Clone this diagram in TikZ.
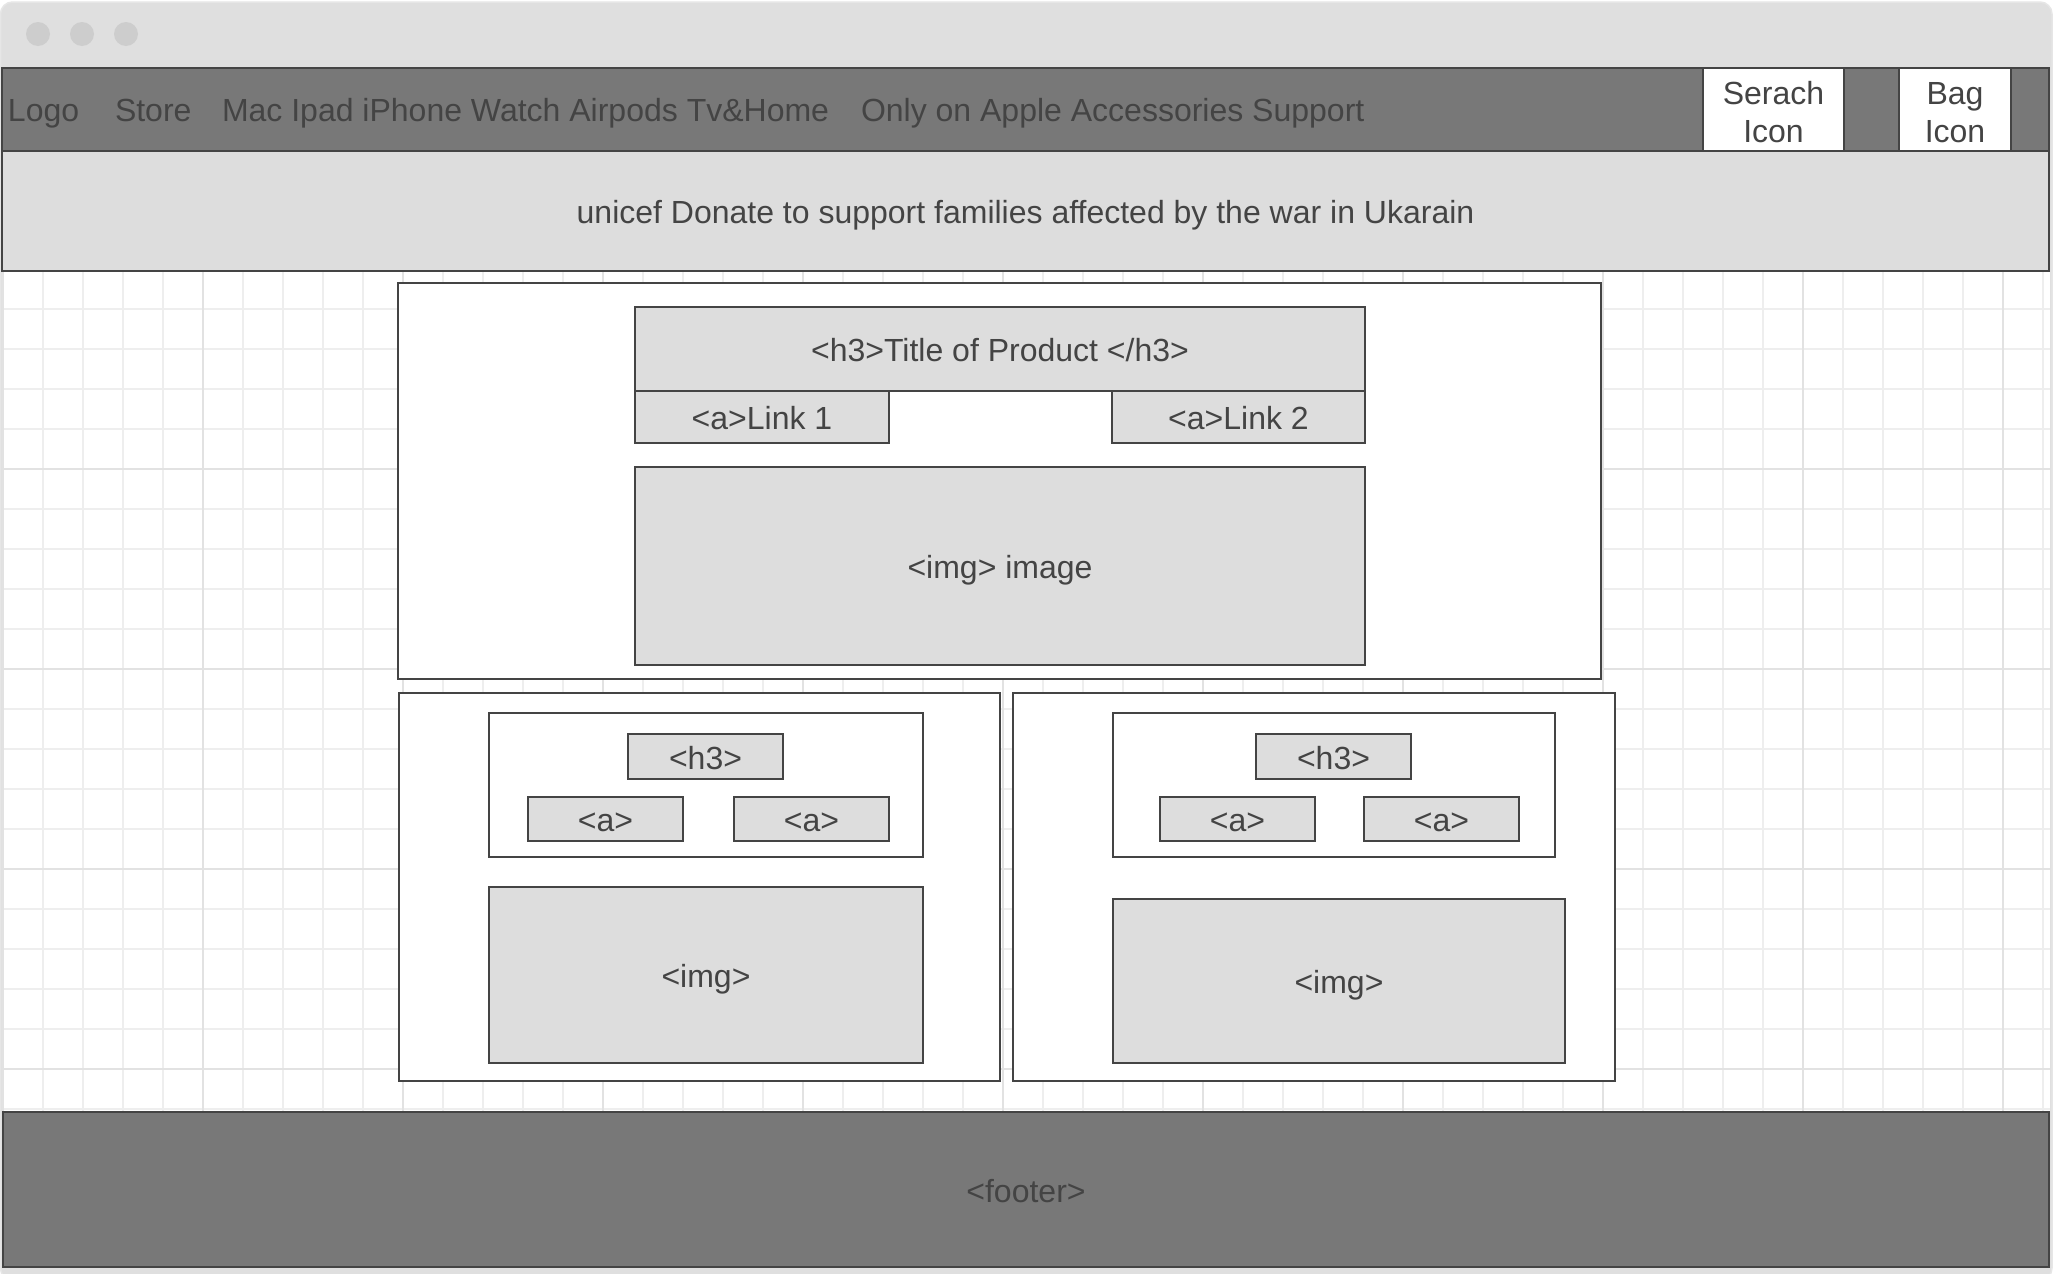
\documentclass[tikz,border=0pt]{standalone}
\usepackage{fontspec}
\setmainfont{Liberation Sans}
\definecolor{winbg}{HTML}{DFDFDF}
\definecolor{winline}{HTML}{E6E6E6}
\definecolor{dot}{HTML}{CDCDCD}
\definecolor{bar}{HTML}{787878}
\definecolor{edge}{HTML}{444444}
\definecolor{light}{HTML}{DDDDDD}
\definecolor{txt}{HTML}{444444}
\definecolor{gminor}{HTML}{EEEEEE}
\definecolor{gmajor}{HTML}{E2E2E2}
\newcommand\wbox[8][boxtext]{%
  \node[#7, minimum width={(#5-#3)*0.5pt}, minimum height={(#6-#4)*0.5pt}] (#2) at ({(#3+#5)/2},{(#4+#6)/2}) {};
  \node[#1] (#2-label) at (#2.center) {#8};}
\tikzset{
  every node/.style={inner sep=0pt, outer sep=0pt, text=txt, font=\fontsize{16pt}{19pt}\selectfont},
  basebox/.style={rectangle, draw=edge, line width=1pt},
  darkbox/.style={basebox, fill=bar},
  lightbox/.style={basebox, fill=light},
  whitebox/.style={basebox, fill=white},
  boxtext/.style={text height=12pt, text depth=2.5pt, yshift=-1.5pt},
  twoline/.style={align=center, yshift=-1.5pt},
  navtext/.style={anchor=base west},
  minorline/.style={draw=gminor, line width=0.75pt},
  majorline/.style={draw=gmajor, line width=0.75pt},
}
\begin{document}
\begin{tikzpicture}[x=0.5pt,y=-0.5pt]
\useasboundingbox (0,0) rectangle (2056,1274);
\fill[white] (0,0) rectangle (2056,1274);
% window frame
\draw[fill=winbg, draw=winline, line width=0.75pt, rounded corners=6pt] (0.5,2) rectangle (2052,1280);
\fill[dot] (38,34) circle[radius=12];
\fill[dot] (82,34) circle[radius=12];
\fill[dot] (126,34) circle[radius=12];
% page area with grid
\fill[white] (2,271) rectangle (2050,1112);
\begin{scope}
\clip (2,271) rectangle (2050,1112);
\foreach \k in {0,...,51} {\draw[minorline] ({3+40*\k},271) -- ({3+40*\k},1112);}
\foreach \k in {0,...,20} {\draw[minorline] (2,{309+40*\k}) -- (2050,{309+40*\k});}
\foreach \k in {0,...,10} {\draw[majorline] ({3+200*\k},271) -- ({3+200*\k},1112);}
\foreach \k in {0,...,4} {\draw[majorline] (2,{269+200*\k}) -- (2050,{269+200*\k});}
\end{scope}
% navigation bar
\wbox{nav}{2}{68}{2049}{151}{darkbox}{}
\wbox[twoline]{search}{1703}{68}{1844}{151}{whitebox}{Serach\\Icon}
\wbox[twoline]{bag}{1899}{68}{2011}{151}{whitebox}{Bag\\Icon}
\node[navtext] (logo) at (8,121) {Logo};
\node[navtext] (store) at (115,121) {Store};
\node[navtext] (menu) at (222,121) {Mac Ipad iPhone Watch Airpods Tv\&Home};
\node[navtext] (extra) at (861,121) {Only on Apple Accessories Support};
% banner
\wbox{banner}{2}{151}{2049}{271}{lightbox}{unicef Donate to support families affected by the war in Ukarain}
% main product
\wbox{main}{398}{283}{1601}{679}{whitebox}{}
\wbox{title}{635}{307}{1365}{391}{lightbox}{<h3>Title of Product </h3>}
\wbox{linka}{635}{391}{889}{443}{lightbox}{<a>Link 1}
\wbox{linkb}{1112}{391}{1365}{443}{lightbox}{<a>Link 2}
\wbox{mainimg}{635}{467}{1365}{665}{lightbox}{<img> image}
% left card
\wbox{lcard}{399}{693}{1000}{1081}{whitebox}{}
\wbox{lhead}{489}{713}{923}{857}{whitebox}{}
\wbox{lh}{628}{734}{783}{779}{lightbox}{<h3>}
\wbox{la}{528}{797}{683}{841}{lightbox}{<a>}
\wbox{lb}{734}{797}{889}{841}{lightbox}{<a>}
\wbox{limg}{489}{887}{923}{1063}{lightbox}{<img>}
% right card
\wbox{rcard}{1013}{693}{1615}{1081}{whitebox}{}
\wbox{rhead}{1113}{713}{1555}{857}{whitebox}{}
\wbox{rh}{1256}{734}{1411}{779}{lightbox}{<h3>}
\wbox{ra}{1160}{797}{1315}{841}{lightbox}{<a>}
\wbox{rb}{1364}{797}{1519}{841}{lightbox}{<a>}
\wbox{rimg}{1113}{899}{1565}{1063}{lightbox}{<img>}
% footer
\wbox{footer}{3}{1112}{2049}{1267}{darkbox}{<footer>}
\end{tikzpicture}
\end{document}
